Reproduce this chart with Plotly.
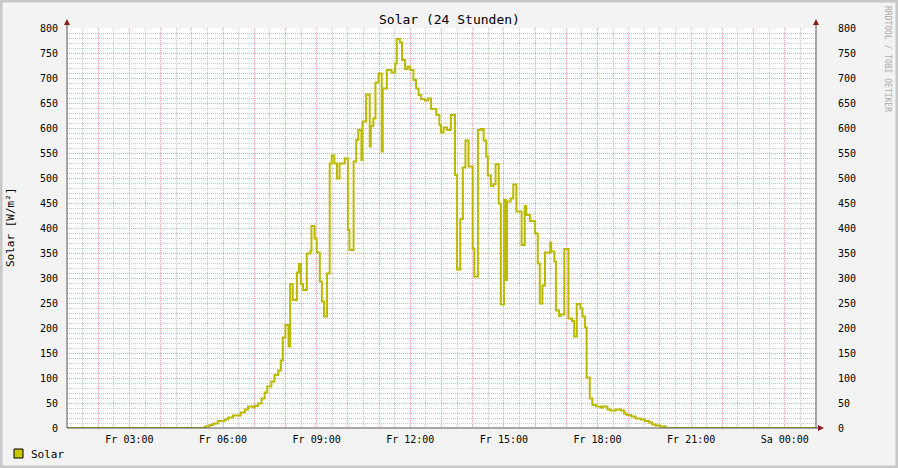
import plotly.graph_objects as go

# ---------------- data ----------------
DAY = "2024-06-07"          # a Friday
NEXT_DAY = "2024-06-08"
TIMES = [
    "01:00", "05:25", "05:34", "05:41", "05:50", "06:03", "06:10", "06:19", "06:34", "06:42",
    "06:48", "06:58", "07:01", "07:07", "07:14", "07:20", "07:25", "07:33", "07:39", "07:46",
    "07:51", "07:55", "08:00", "08:06", "08:09", "08:14", "08:22", "08:26", "08:30", "08:34",
    "08:41", "08:48", "08:50", "08:56", "09:00", "09:06", "09:10", "09:14", "09:20", "09:25",
    "09:29", "09:34", "09:39", "09:44", "09:54", "10:00", "10:03", "10:11", "10:16", "10:20",
    "10:26", "10:28", "10:35", "10:42", "10:44", "10:49", "10:53", "10:59", "11:05", "11:07",
    "11:15", "11:24", "11:31", "11:34", "11:40", "11:44", "11:50", "11:55", "12:00", "12:06",
    "12:11", "12:16", "12:21", "12:28", "12:34", "12:40", "12:50", "12:56", "12:59", "13:04",
    "13:11", "13:18", "13:26", "13:30", "13:36", "13:41", "13:46", "13:52", "14:00", "14:03",
    "14:10", "14:16", "14:21", "14:26", "14:29", "14:35", "14:40", "14:44", "14:50", "14:54",
    "15:00", "15:04", "15:06", "15:13", "15:18", "15:24", "15:34", "15:40", "15:43", "15:50",
    "16:00", "16:05", "16:09", "16:14", "16:19", "16:29", "16:31", "16:37", "16:40", "16:46",
    "16:49", "16:56", "17:04", "17:11", "17:15", "17:20", "17:27", "17:31", "17:36", "17:39",
    "17:45", "17:50", "17:57", "18:06", "18:11", "18:19", "18:25", "18:35", "18:45", "18:51",
    "18:56", "19:05", "19:13", "19:23", "19:31", "19:39", "19:45", "19:52", "20:00", "20:11",
]
SOLAR = [
    0, 3, 6, 9, 14, 17, 21, 25, 31, 37,
    43, 41, 44, 49, 59, 71, 83, 93, 106, 115,
    135, 181, 206, 163, 288, 256, 311, 328, 288, 276,
    349, 354, 404, 379, 351, 293, 253, 223, 309, 529,
    545, 529, 499, 529, 539, 396, 356, 533, 576, 596,
    536, 613, 667, 563, 604, 619, 691, 709, 553, 679,
    716, 711, 729, 778, 771, 736, 718, 723, 716, 696,
    679, 666, 658, 655, 659, 638, 626, 606, 591, 601,
    596, 626, 506, 317, 418, 521, 575, 523, 359, 303,
    596, 598, 575, 543, 505, 484, 488, 528, 449, 247,
    456, 296, 453, 459, 487, 433, 366, 444, 426, 414,
    389, 329, 249, 285, 351, 371, 353, 333, 235, 224,
    227, 358, 219, 214, 183, 248, 239, 223, 201, 101,
    59, 46, 43, 41, 43, 37, 35, 37, 35, 29,
    26, 23, 19, 17, 14, 11, 7, 5, 3, 0,
]
TICK_TIMES = [f"{DAY} 03:00", f"{DAY} 06:00", f"{DAY} 09:00", f"{DAY} 12:00",
              f"{DAY} 15:00", f"{DAY} 18:00", f"{DAY} 21:00", f"{NEXT_DAY} 00:00"]
TICK_LABELS = ["Fr 03:00", "Fr 06:00", "Fr 09:00", "Fr 12:00",
               "Fr 15:00", "Fr 18:00", "Fr 21:00", "Sa 00:00"]
X_START = f"{DAY} 01:00"
X_END = f"{NEXT_DAY} 01:00"
Y_MAX = 800

# ---------------- build ----------------
FONT = "DejaVu Sans Mono"
LINE_COLOR = "#BABA00"
RED_GRID = "rgba(235,130,130,0.75)"
GRAY_GRID = "rgba(185,185,185,0.8)"

x = [f"{DAY} {t}" for t in TIMES] + [X_END]
y = SOLAR + [SOLAR[-1]]

# hourly gridline positions (labels only on every 3rd hour), half-hour minor grid
hour_vals = [f"{DAY} {h:02d}:00" for h in range(1, 24)] + [f"{NEXT_DAY} 00:00", X_END]
half_vals = [f"{DAY} {h:02d}:30" for h in range(1, 24)] + [f"{NEXT_DAY} 00:30"]
lab = dict(zip(TICK_TIMES, TICK_LABELS))
hour_text = [lab.get(v, "") for v in hour_vals]

L, R, T, B = 67, 816, 28, 428
def PX(px):
    return (px - L) / (R - L)
def PY(py):
    return (B - py) / (B - T)

fig = go.Figure()
fig.add_trace(go.Scatter(x=x, y=y, mode="lines", line=dict(color=LINE_COLOR, width=2, shape="hv"),
                         showlegend=False, hoverinfo="x+y"))
fig.add_trace(go.Scatter(x=[X_START], y=[0], yaxis="y2", mode="markers",
                         marker=dict(opacity=0), showlegend=False, hoverinfo="skip"))

axis_font = dict(family=FONT, size=10, color="#000000")
fig.update_layout(
    width=898, height=468, autosize=False,
    margin=dict(l=L, r=898 - R, t=T, b=468 - B, pad=0),
    paper_bgcolor="#F3F3F3", plot_bgcolor="#FFFFFF",
    font=dict(family=FONT, size=10, color="#000"),
    xaxis=dict(
        type="date", range=[X_START, X_END],
        tickmode="array", tickvals=hour_vals, ticktext=hour_text,
        showgrid=True, gridcolor=RED_GRID, griddash="1px,1px", gridwidth=1,
        minor=dict(tickmode="array", tickvals=half_vals, showgrid=True,
                   gridcolor=GRAY_GRID, griddash="1px,1px", gridwidth=1),
        ticks="outside", ticklen=2, tickcolor="rgba(0,0,0,0)",
        tickfont=axis_font, showline=False, zeroline=False, fixedrange=True,
    ),
    yaxis=dict(
        range=[0, Y_MAX], tickmode="linear", tick0=0, dtick=50,
        showgrid=True, gridcolor=RED_GRID, griddash="1px,1px", gridwidth=1,
        minor=dict(tick0=0, dtick=10, showgrid=True,
                   gridcolor=GRAY_GRID, griddash="1px,1px", gridwidth=1),
        ticks="outside", ticklen=6, tickcolor="rgba(0,0,0,0)",
        tickfont=axis_font, showline=False, zeroline=False, fixedrange=True,
    ),
    yaxis2=dict(
        range=[0, Y_MAX], overlaying="y", side="right", tickmode="linear", tick0=0, dtick=50,
        showgrid=False, ticks="outside", ticklen=19, tickcolor="rgba(0,0,0,0)",
        tickfont=axis_font, showline=False, zeroline=False, fixedrange=True,
    ),
)

shapes = []
AX = "#555555"
ARROW = "#8B1A1A"
# axis lines
shapes.append(dict(type="line", xref="paper", yref="paper", x0=PX(67), x1=PX(67), y0=PY(428), y1=PY(22),
                   line=dict(color=AX, width=1)))
shapes.append(dict(type="line", xref="paper", yref="paper", x0=PX(816), x1=PX(816), y0=PY(428), y1=PY(22),
                   line=dict(color=AX, width=1)))
shapes.append(dict(type="line", xref="paper", yref="paper", x0=PX(67), x1=PX(820), y0=PY(428), y1=PY(428),
                   line=dict(color=AX, width=1)))
# arrows
for ax_x in (67, 816):
    shapes.append(dict(type="path", xref="paper", yref="paper",
                       path=f"M {PX(ax_x-3)},{PY(25)} L {PX(ax_x+3)},{PY(25)} L {PX(ax_x)},{PY(19)} Z",
                       fillcolor=ARROW, line=dict(color=ARROW, width=0)))
shapes.append(dict(type="path", xref="paper", yref="paper",
                   path=f"M {PX(818)},{PY(425)} L {PX(818)},{PY(431)} L {PX(824)},{PY(428)} Z",
                   fillcolor=ARROW, line=dict(color=ARROW, width=0)))
# legend square
shapes.append(dict(type="rect", xref="paper", yref="paper", x0=PX(14), x1=PX(23), y0=PY(458), y1=PY(449),
                   fillcolor="#C8C800", line=dict(color="#000000", width=1)))
# outer frame
shapes.append(dict(type="rect", xref="paper", yref="paper", x0=PX(0), x1=PX(898), y0=PY(468), y1=PY(0),
                   fillcolor="rgba(0,0,0,0)", line=dict(color="#C8C8C8", width=5)))
fig.update_layout(shapes=shapes)

fig.update_layout(annotations=[
    dict(xref="paper", yref="paper", x=PX(449), y=PY(19), text="Solar (24 Stunden)", showarrow=False,
         xanchor="center", yanchor="middle", font=dict(family=FONT, size=13, color="#000")),
    dict(xref="paper", yref="paper", x=PX(10), y=PY(228), text="Solar [W/m²]", showarrow=False,
         textangle=-90, xanchor="center", yanchor="middle", font=dict(family=FONT, size=11, color="#000")),
    dict(xref="paper", yref="paper", x=PX(888), y=PY(59), text="RRDTOOL / TOBI OETIKER", showarrow=False,
         textangle=90, xanchor="center", yanchor="middle", font=dict(family=FONT, size=8, color="#AAAAAA")),
    dict(xref="paper", yref="paper", x=PX(29), y=PY(454), text="Solar", showarrow=False,
         xanchor="left", yanchor="middle", font=dict(family=FONT, size=11, color="#000")),
])

fig.write_html("out.html", config={"displayModeBar": False},
               post_script="document.body.style.margin='0px';document.body.style.overflow='hidden';")
